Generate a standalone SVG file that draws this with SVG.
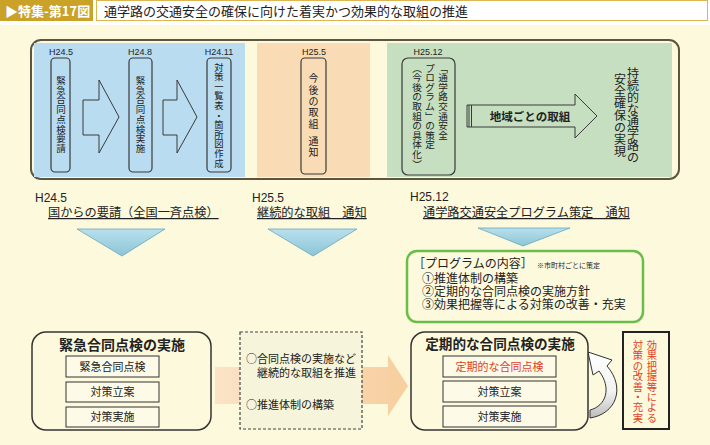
<svg xmlns="http://www.w3.org/2000/svg" width="710" height="445" viewBox="0 0 710 445">
<defs>
<style>
text{font-family:"Liberation Sans","Noto Sans CJK JP",sans-serif;fill:#222}
.jp{font-family:"Noto Sans CJK JP",sans-serif}
.vbox{fill:none;stroke:#3a3a3a;stroke-width:1.2}
.hol{fill:none;stroke:#3a3a3a;stroke-width:1}
.tri{fill:url(#tg);stroke:#6aa7ba;stroke-width:0.8}
.ib{fill:#fdfae8;stroke:#333;stroke-width:1}
.red{fill:#e2401f}
.date{font-size:9px}
</style>
<linearGradient id="tg" x1="0" y1="0" x2="0" y2="1"><stop offset="0" stop-color="#b8e0ec"/><stop offset="1" stop-color="#8cc5d6"/></linearGradient>
<linearGradient id="og" x1="0" y1="0" x2="1" y2="0"><stop offset="0" stop-color="#fbe3c6"/><stop offset="1" stop-color="#f7cf9f"/></linearGradient>
<linearGradient id="cg" x1="0" y1="0" x2="0" y2="1"><stop offset="0" stop-color="#ffffff"/><stop offset="0.6" stop-color="#f2f2f2"/><stop offset="1" stop-color="#bdbdbd"/></linearGradient>
</defs>
<rect x="0" y="0" width="710" height="445" fill="#ffffff"/>
<rect x="0" y="25" width="710" height="420" fill="#fdf9dc"/>
<g id="header">
<rect x="0" y="0" width="93" height="21" fill="#c9a227"/>
<text x="5" y="15.5" class="jp" font-size="13" font-weight="bold" style="fill:#fff">▶特集-第17図</text>
<rect x="96.5" y="0.5" width="611" height="20" fill="#fff" stroke="#dcb650" stroke-width="1"/>
<text x="104" y="15.5" class="jp" font-size="13">通学路の交通安全の確保に向けた着実かつ効果的な取組の推進</text>
</g>
<g id="timeline">
<rect x="31" y="40" width="648" height="139" rx="10" fill="#fdf9dc" stroke="#5e5541" stroke-width="2"/>
<rect x="34" y="43" width="211" height="134" fill="#b9dcf1"/>
<rect x="257" y="43" width="113" height="134" fill="#f9dcb5"/>
<rect x="387" y="43" width="285" height="134" fill="#c6dfc1"/>
</g>
<g id="step-h24-5">
<text x="61" y="55" class="date" text-anchor="middle">H24.5</text>
<rect x="51" y="58" width="19" height="114" rx="4" class="vbox"/>
<text class="jp" font-size="9.5" text-anchor="middle" x="61 61 61 61 61 61 61 61" y="84 93.7 103.4 113.1 122.8 132.5 142.2 151.9">緊急合同点検要請</text>
</g>
<g id="step-h24-8">
<text x="140" y="55" class="date" text-anchor="middle">H24.8</text>
<rect x="129" y="58" width="23" height="114" rx="4" class="vbox"/>
<text class="jp" font-size="9.5" text-anchor="middle" x="140.5 140.5 140.5 140.5 140.5 140.5 140.5 140.5" y="84 93.7 103.4 113.1 122.8 132.5 142.2 151.9">緊急合同点検実施</text>
</g>
<g id="step-h24-11">
<text x="219" y="55" class="date" text-anchor="middle">H24.11</text>
<rect x="207" y="58" width="24" height="114" rx="4" class="vbox"/>
<text class="jp" font-size="9.3" text-anchor="middle" x="219 219 219 219 219 219 219 219 219 219 219" y="70.5 80.1 89.7 99.3 108.9 118.5 128.1 137.7 147.3 156.9 166.5">対策一覧表・箇所図作成</text>
</g>
<g id="step-h25-5">
<text x="314" y="55" class="date" text-anchor="middle">H25.5</text>
<rect x="301" y="58" width="25" height="116" rx="4" class="vbox"/>
<text class="jp" font-size="10" text-anchor="middle" x="313.5 313.5 313.5 313.5 313.5 313.5 313.5" y="82.3 93.6 104.9 116.2 127.5 144.8 156.1">今後の取組通知</text>
</g>
<g id="step-h25-12">
<text x="428" y="55" class="date" text-anchor="middle">H25.12</text>
<rect x="402" y="58" width="53" height="117" rx="6" class="vbox"/>
<text class="jp" font-size="9.6" text-anchor="middle" x="443 443 443 443 443 443 443 443" y="71.6 81.2 90.8 100.4 110 119.6 129.2 138.8">﹁通学路交通安全</text>
<text class="jp" font-size="9.6" text-anchor="middle" x="430 430 430 430 430 430 430 430 430" y="71.6 81.2 90.8 100.4 110 119.6 129.2 138.8 148.4">プログラム﹂の策定</text>
<text class="jp" font-size="9.6" text-anchor="middle" x="417 417 417 417 417 417 417 417 417 417 417" y="71.6 81.2 90.8 100.4 110 119.6 129.2 138.8 148.4 158 167.6">︵今後の取組の具体化︶</text>
</g>
<g id="goal">
<text class="jp" font-size="12" text-anchor="middle" x="633 633 633 633 633 633 633 633" y="77.6 89.6 101.6 113.6 125.6 137.6 149.6 161.6">持続的な通学路の</text>
<text class="jp" font-size="12" text-anchor="middle" x="620 620 620 620 620 620 620" y="83.6 95.6 107.6 119.6 131.6 143.6 155.6">安全確保の実現</text>
</g>
<g id="connectors">
<polygon class="hol" points="83,100 99,100 99,80 119,117 99,153 99,135 83,135"/>
<polygon class="hol" points="163,100 177,100 177,80 197,117 177,153 177,135 163,135"/>
<polygon class="hol" points="467,105 575,105 575,94 597,116 575,138 575,127 467,127"/>
<line x1="469" y1="105" x2="469" y2="127" stroke="#3a3a3a" stroke-width="1"/>
<line x1="471.5" y1="105" x2="471.5" y2="127" stroke="#3a3a3a" stroke-width="1"/>
<text x="530" y="120.5" class="jp" font-size="11.5" font-weight="bold" text-anchor="middle">地域ごとの取組</text>
<polygon class="tri" points="77,229 165,229 122,256"/>
<polygon class="tri" points="268,229 357,229 313,256"/>
<polygon class="tri" points="478,228 570,228 523,246"/>
<polygon fill="url(#og)" points="215,367 388,367 388,355 408,386 388,416 388,404 215,404"/>
<path d="M590,418 C616,414 626,388 607,366 L612,360 L588,352 L593,375 L599,371 C612,388 606,406 590,410 Z" fill="url(#cg)" stroke="#333" stroke-width="1"/>
</g>
<g id="notice-h24-5">
<text x="35" y="202" font-size="12">H24.5</text>
<text x="48" y="217" class="jp" font-size="12.2" text-decoration="underline">国からの要請（全国一斉点検）</text>
</g>
<g id="notice-h25-5">
<text x="252" y="202" font-size="12">H25.5</text>
<text x="257" y="217" class="jp" font-size="12.2" text-decoration="underline">継続的な取組　通知</text>
</g>
<g id="notice-h25-12">
<text x="410" y="201" font-size="12">H25.12</text>
<text x="423" y="217" class="jp" font-size="12.2" text-decoration="underline">通学路交通安全プログラム策定　通知</text>
</g>
<g id="program">
<rect x="407" y="251" width="236" height="71" rx="10" fill="#fdf9dc" stroke="#69be4a" stroke-width="2.5"/>
<text x="413" y="268" class="jp" font-size="12">［プログラムの内容］</text>
<text x="537" y="268" class="jp" font-size="7">※市町村ごとに策定</text>
<text x="422" y="283" class="jp" font-size="12">①推進体制の構築</text>
<text x="422" y="296" class="jp" font-size="12">②定期的な合同点検の実施方針</text>
<text x="422" y="309" class="jp" font-size="12">③効果把握等による対策の改善・充実</text>
</g>
<g id="emergency">
<rect x="32" y="332" width="179" height="98" rx="14" fill="#fdf9dc" stroke="#333" stroke-width="1.5"/>
<text x="122" y="350" class="jp" font-size="14" font-weight="bold" text-anchor="middle">緊急合同点検の実施</text>
<rect x="66" y="356" width="93" height="21" class="ib"/>
<text x="112.5" y="370.5" class="jp" font-size="11" text-anchor="middle">緊急合同点検</text>
<rect x="66" y="382" width="93" height="20" class="ib"/>
<text x="112.5" y="396" class="jp" font-size="11" text-anchor="middle">対策立案</text>
<rect x="66" y="407" width="93" height="20" class="ib"/>
<text x="112.5" y="421" class="jp" font-size="11" text-anchor="middle">対策実施</text>
</g>
<g id="continuing">
<rect x="240" y="332" width="122" height="97" fill="#f6f4da" stroke="#444" stroke-width="1.2" stroke-dasharray="3 2"/>
<text x="246" y="363" class="jp" font-size="11">○合同点検の実施など</text>
<text x="257" y="377" class="jp" font-size="11">継続的な取組を推進</text>
<text x="246" y="409" class="jp" font-size="11">○推進体制の構築</text>
</g>
<g id="periodic">
<rect x="411" y="332" width="177" height="98" rx="14" fill="#fdf9dc" stroke="#333" stroke-width="1.5"/>
<text x="500" y="349" class="jp" font-size="13.6" font-weight="bold" text-anchor="middle">定期的な合同点検の実施</text>
<rect x="443" y="356" width="113" height="21" class="ib"/>
<text x="499.5" y="370.5" class="jp red" font-size="11" text-anchor="middle">定期的な合同点検</text>
<rect x="443" y="381" width="113" height="21" class="ib"/>
<text x="499.5" y="395.5" class="jp" font-size="11" text-anchor="middle">対策立案</text>
<rect x="443" y="406" width="113" height="21" class="ib"/>
<text x="499.5" y="420.5" class="jp" font-size="11" text-anchor="middle">対策実施</text>
</g>
<g id="improve">
<rect x="623" y="332" width="46" height="97" fill="#fdf9dc" stroke="#222" stroke-width="2"/>
<text class="jp red" font-size="10.3" text-anchor="middle" x="652 652 652 652 652 652 652 652" y="349 359.4 369.8 380.2 390.6 401 411.4 421.8">効果把握等による</text>
<text class="jp red" font-size="10.3" text-anchor="middle" x="638 638 638 638 638 638 638 638" y="349 359.4 369.8 380.2 390.6 401 411.4 421.8">対策の改善・充実</text>
</g>
</svg>
